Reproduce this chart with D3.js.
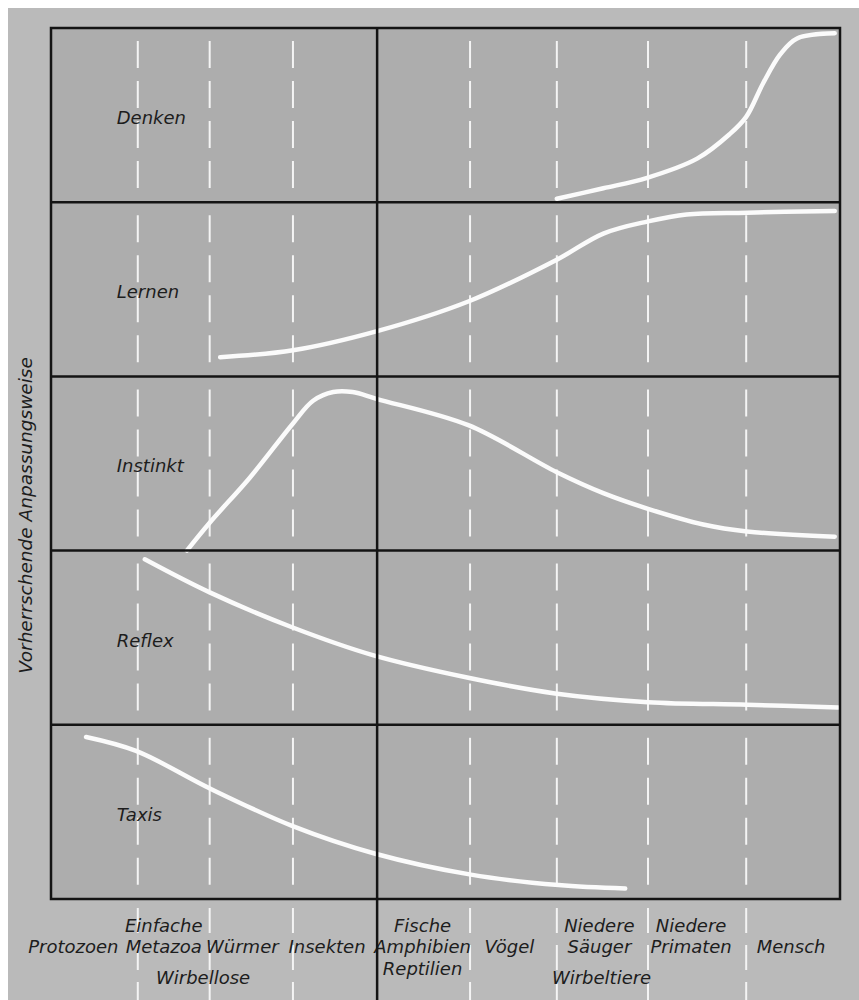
<!DOCTYPE html>
<html>
<head>
<meta charset="utf-8">
<script src="https://cdn.jsdelivr.net/npm/d3@7"></script>
<style>
body { margin: 0; background: #ffffff; }
svg { display: block; }
text { font-family: "DejaVu Sans", sans-serif; font-style: italic; fill: #1d1d1d; }
</style>
</head>
<body>
<svg id="drawing_region"></svg>
<script>
// rows (prevailing mode of adaptation), top to bottom
const modes = ['Denken', 'Lernen', 'Instinkt', 'Reflex', 'Taxis'];

// stage boundaries on the evolution axis (0..9), cells are not all equal
const stageBounds = [0, 0.99, 1.81, 2.76, 3.72, 4.78, 5.77, 6.81, 7.93, 9];
const stageLabels = [
    ['', 'Protozoen', ''],
    ['Einfache', 'Metazoa', ''],
    ['', 'Würmer', ''],
    ['', 'Insekten', ''],
    ['Fische', 'Amphibien', 'Reptilien'],
    ['', 'Vögel', ''],
    ['Niedere', 'Säuger', ''],
    ['Niedere', 'Primaten', ''],
    ['', 'Mensch', '']
];
const groupNames = ['Wirbellose', 'Wirbeltiere'];
const groupSplit = 4;   // index of stage bound between the two groups

// curves: [stage, level 0..1 inside the row]
const denken = [[5.77,0.02],[6.30,0.08],[6.80,0.14],[7.37,0.25],[7.74,0.39],[7.93,0.49],[8.12,0.68],[8.32,0.85],[8.51,0.94],[8.94,0.97]];
const lernen = [[1.93,0.11],[2.76,0.15],[3.72,0.26],[4.76,0.43],[5.77,0.67],[6.30,0.82],[6.81,0.89],[7.25,0.93],[7.94,0.94],[8.94,0.95]];
const instinkt = [[1.55,0.0],[1.81,0.16],[2.27,0.42],[2.76,0.73],[2.99,0.86],[3.22,0.91],[3.44,0.91],[3.72,0.87],[4.76,0.72],[5.77,0.45],[6.30,0.33],[6.81,0.24],[7.44,0.15],[7.94,0.11],[8.94,0.08]];
const reflex = [[1.07,0.95],[1.81,0.76],[2.75,0.56],[3.67,0.40],[4.76,0.27],[5.75,0.18],[6.81,0.13],[7.94,0.115],[8.98,0.10]];
const taxis = [[0.40,0.93],[0.97,0.85],[1.83,0.63],[2.75,0.42],[3.70,0.26],[4.79,0.14],[5.79,0.08],[6.55,0.06]];

const series = { Denken: denken, Lernen: lernen, Instinkt: instinkt, Reflex: reflex, Taxis: taxis };

class EvolutionChart {

    constructor( config ) {
        this.config = config;
        this.init();
    }

    init() {
        let self = this;
        const c = self.config;

        self.svg = d3.select( c.parent )
            .attr('width', c.width)
            .attr('height', c.height);

        self.xscale = d3.scaleLinear()
            .domain([0, 9])
            .range([c.margin.left, c.width - c.margin.right]);

        self.rowscale = d3.scaleBand()
            .domain(modes)
            .range([c.margin.top, c.height - c.margin.bottom]);

        self.levelscale = d3.scaleLinear()
            .domain([0, 1])
            .range([self.rowscale.bandwidth(), 0]);
    }

    render() {
        let self = this;
        const c = self.config;
        const x0 = self.xscale.range()[0], x1 = self.xscale.range()[1];
        const y0 = self.rowscale.range()[0], y1 = self.rowscale.range()[1];
        const bw = self.rowscale.bandwidth();

        // page backdrop
        self.svg.append('rect')
            .attr('x', 8).attr('y', 8)
            .attr('width', c.width - 8).attr('height', c.height - 8)
            .attr('fill', '#bababa');

        self.svg.append('rect')
            .attr('x', x0).attr('y', y0)
            .attr('width', x1 - x0).attr('height', y1 - y0)
            .attr('fill', '#adadad');

        const dashed = stageBounds.slice(1, -1).filter((d, i) => i + 1 !== groupSplit);

        // dashed stage lines inside each row
        const rows = self.svg.selectAll('g.row')
            .data(modes)
            .enter()
            .append('g')
            .attr('class', 'row')
            .attr('transform', d => `translate(0, ${self.rowscale(d)})`);

        rows.selectAll('line.stage')
            .data(dashed)
            .enter()
            .append('line')
            .attr('class', 'stage')
            .attr('x1', d => self.xscale(d))
            .attr('x2', d => self.xscale(d))
            .attr('y1', 13)
            .attr('y2', bw - 8)
            .attr('stroke', '#f4f4f4')
            .attr('stroke-width', 2)
            .attr('stroke-dasharray', '27,13');

        // dashed lines continue through the label area
        self.svg.selectAll('line.below')
            .data(dashed)
            .enter()
            .append('line')
            .attr('class', 'below')
            .attr('x1', d => self.xscale(d))
            .attr('x2', d => self.xscale(d))
            .attr('y1', y1 + 9)
            .attr('y2', c.height)
            .attr('stroke', '#f4f4f4')
            .attr('stroke-width', 2)
            .attr('stroke-dasharray', '25,12');

        // labels under the chart (drawn over the dashes)
        const labelShift = [-21, -10, -9, -8, -1, -4, -3, -6, -2];
        const lineY = [932, 953, 975];
        stageLabels.forEach((lines, i) => {
            const cx = self.xscale((stageBounds[i] + stageBounds[i + 1]) / 2) + labelShift[i];
            lines.forEach((t, k) => {
                if (!t) return;
                self.svg.append('text')
                    .attr('x', cx)
                    .attr('y', lineY[k])
                    .attr('text-anchor', 'middle')
                    .attr('font-size', 18)
                    .text(t);
            });
        });

        const groupBounds = [[stageBounds[0], stageBounds[groupSplit]], [stageBounds[groupSplit], stageBounds[stageBounds.length - 1]]];
        self.svg.selectAll('text.group')
            .data(groupNames)
            .enter()
            .append('text')
            .attr('class', 'group')
            .attr('x', (d, i) => self.xscale((groupBounds[i][0] + groupBounds[i][1]) / 2) - (i === 0 ? 11 : 7))
            .attr('y', 984)
            .attr('text-anchor', 'middle')
            .attr('font-size', 18)
            .text(d => d);

        // curves
        const line = d3.line()
            .x(d => self.xscale(d[0]))
            .y(d => self.levelscale(d[1]))
            .curve(d3.curveCatmullRom.alpha(0.5));

        rows.append('path')
            .attr('d', d => line(series[d]))
            .attr('fill', 'none')
            .attr('stroke', '#fbfbfb')
            .attr('stroke-width', 4.5)
            .attr('stroke-linecap', 'round');

        // row names
        rows.append('text')
            .attr('x', self.xscale(0.75))
            .attr('y', bw / 2 + 9)
            .attr('font-size', 18)
            .text(d => d);

        // frame and row rules
        self.svg.selectAll('line.rule')
            .data(modes.slice(1))
            .enter()
            .append('line')
            .attr('class', 'rule')
            .attr('x1', x0).attr('x2', x1)
            .attr('y1', d => self.rowscale(d))
            .attr('y2', d => self.rowscale(d))
            .attr('stroke', '#141414')
            .attr('stroke-width', 2.5);

        self.svg.append('rect')
            .attr('x', x0).attr('y', y0)
            .attr('width', x1 - x0).attr('height', y1 - y0)
            .attr('fill', 'none')
            .attr('stroke', '#141414')
            .attr('stroke-width', 2.5);

        // divider invertebrates / vertebrates, runs to the bottom
        self.svg.append('line')
            .attr('x1', self.xscale(stageBounds[groupSplit]))
            .attr('x2', self.xscale(stageBounds[groupSplit]))
            .attr('y1', y0)
            .attr('y2', c.height)
            .attr('stroke', '#141414')
            .attr('stroke-width', 2.5);

        // y title
        self.svg.append('text')
            .attr('transform', `translate(32, ${(y0 + y1) / 2 + 52}) rotate(-90)`)
            .attr('text-anchor', 'middle')
            .attr('font-size', 18.5)
            .text('Vorherrschende Anpassungsweise');
    }
}

const chart = new EvolutionChart({
    parent: '#drawing_region',
    width: 859,
    height: 1000,
    margin: { top: 28, right: 19, bottom: 101, left: 51 }
});
chart.render();
</script>
</body>
</html>
